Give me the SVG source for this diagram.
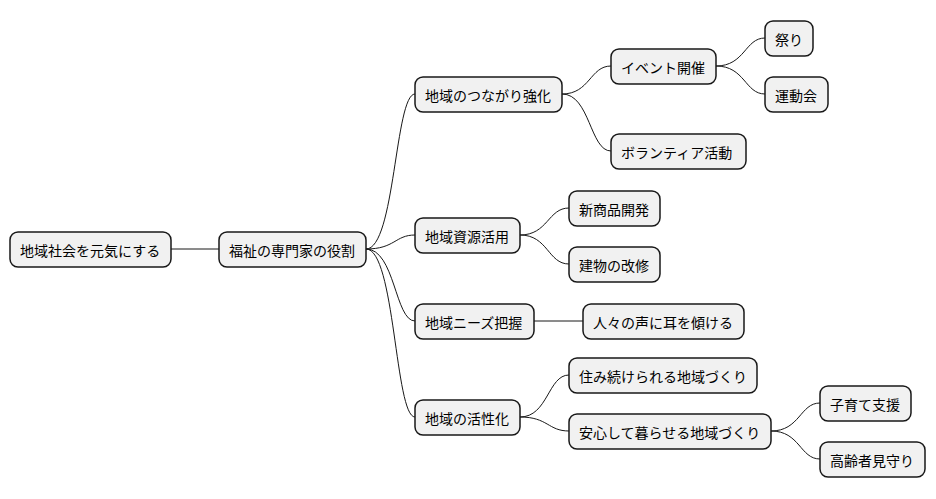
<svg xmlns="http://www.w3.org/2000/svg" width="936" height="499" viewBox="0 0 936 499">
<style>
.n rect{fill:#f1f1f1;stroke:#181818;stroke-width:1.5}
.n text{font-family:"Noto Sans CJK JP","Liberation Sans",sans-serif;font-size:14px;fill:#000;dominant-baseline:central}
#c path{fill:none;stroke:#181818;stroke-width:1}
</style>
<rect width="936" height="499" fill="#fff"/>
<g id="c">
<path d="M171 249 L219 249"/>
<path d="M366 249 C395 249 395 94 415 94"/>
<path d="M366 249 C395 249 395 235 415 235"/>
<path d="M366 249 C395 249 395 321 415 321"/>
<path d="M366 249 C395 249 395 417 415 417"/>
<path d="M562 94 C590 94 590 66 611 66"/>
<path d="M562 94 C590 94 590 151 611 151"/>
<path d="M716 66 C745 66 745 38 765 38"/>
<path d="M716 66 C745 66 745 94 765 94"/>
<path d="M520 235 C548 235 548 208 569 208"/>
<path d="M520 235 C548 235 548 264 569 264"/>
<path d="M534 321 L583 321"/>
<path d="M520 417 C548 417 548 375 569 375"/>
<path d="M520 417 C548 417 548 431 569 431"/>
<path d="M771 431 C800 431 800 403 820 403"/>
<path d="M771 431 C800 431 800 459 820 459"/>
</g>
<g id="n1" class="n"><rect x="10" y="232" width="161" height="35" rx="8"/><text x="20" y="249.5">地域社会を元気にする</text></g>
<g id="n2" class="n"><rect x="219" y="232" width="147" height="35" rx="8"/><text x="229" y="249.5">福祉の専門家の役割</text></g>
<g id="n3" class="n"><rect x="415" y="77" width="147" height="35" rx="8"/><text x="425" y="94.5">地域のつながり強化</text></g>
<g id="n4" class="n"><rect x="611" y="49" width="105" height="35" rx="8"/><text x="621" y="66.5">イベント開催</text></g>
<g id="n5" class="n"><rect x="765" y="21" width="48" height="35" rx="8"/><text x="775" y="38.5">祭り</text></g>
<g id="n6" class="n"><rect x="765" y="77" width="63" height="35" rx="8"/><text x="775" y="94.5">運動会</text></g>
<g id="n7" class="n"><rect x="611" y="134" width="135" height="35" rx="8"/><text x="621" y="151.5">ボランティア活動</text></g>
<g id="n8" class="n"><rect x="415" y="218" width="105" height="35" rx="8"/><text x="425" y="235.5">地域資源活用</text></g>
<g id="n9" class="n"><rect x="569" y="191" width="91" height="35" rx="8"/><text x="579" y="208.5">新商品開発</text></g>
<g id="n10" class="n"><rect x="569" y="247" width="91" height="35" rx="8"/><text x="579" y="264.5">建物の改修</text></g>
<g id="n11" class="n"><rect x="415" y="304" width="119" height="35" rx="8"/><text x="425" y="321.5">地域ニーズ把握</text></g>
<g id="n12" class="n"><rect x="583" y="304" width="161" height="35" rx="8"/><text x="593" y="321.5">人々の声に耳を傾ける</text></g>
<g id="n13" class="n"><rect x="415" y="400" width="105" height="35" rx="8"/><text x="425" y="417.5">地域の活性化</text></g>
<g id="n14" class="n"><rect x="569" y="358" width="188" height="35" rx="8"/><text x="579" y="375.5">住み続けられる地域づくり</text></g>
<g id="n15" class="n"><rect x="569" y="414" width="202" height="35" rx="8"/><text x="579" y="431.5">安心して暮らせる地域づくり</text></g>
<g id="n16" class="n"><rect x="820" y="386" width="91" height="35" rx="8"/><text x="830" y="403.5">子育て支援</text></g>
<g id="n17" class="n"><rect x="820" y="442" width="105" height="35" rx="8"/><text x="830" y="459.5">高齢者見守り</text></g>
</svg>
